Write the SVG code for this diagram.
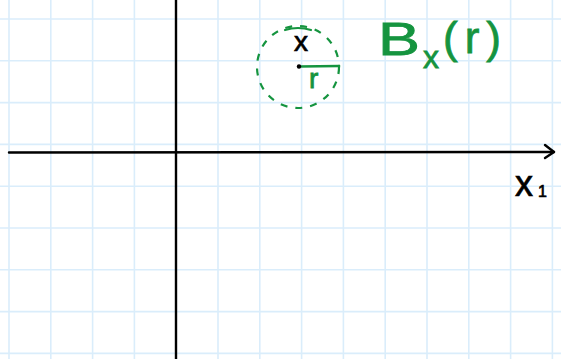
<svg xmlns="http://www.w3.org/2000/svg" width="561" height="359" viewBox="0 0 561 359">
<style>
.grid line{stroke:#daedfb;stroke-width:1.6}
.axis{stroke:#000;stroke-width:2.4;fill:none;stroke-linecap:round;stroke-linejoin:round}
.g{fill:#15943f;stroke:#15943f;stroke-width:0.8;font-family:"Liberation Sans",sans-serif}
.k{fill:#000;stroke:#000;stroke-width:0.7;font-family:"Liberation Sans",sans-serif}
</style>
<rect width="561" height="359" fill="#fff"/>
<g class="grid" id="grid">
<line x1="9" y1="0" x2="9" y2="359"/><line x1="50.8" y1="0" x2="50.8" y2="359"/><line x1="92.6" y1="0" x2="92.6" y2="359"/><line x1="134.4" y1="0" x2="134.4" y2="359"/><line x1="218" y1="0" x2="218" y2="359"/><line x1="259.8" y1="0" x2="259.8" y2="359"/><line x1="301.6" y1="0" x2="301.6" y2="359"/><line x1="343.4" y1="0" x2="343.4" y2="359"/><line x1="385.2" y1="0" x2="385.2" y2="359"/><line x1="427" y1="0" x2="427" y2="359"/><line x1="468.8" y1="0" x2="468.8" y2="359"/><line x1="510.6" y1="0" x2="510.6" y2="359"/><line x1="552.4" y1="0" x2="552.4" y2="359"/>
<line x1="0" y1="19" x2="561" y2="19"/><line x1="0" y1="60.8" x2="561" y2="60.8"/><line x1="0" y1="102.6" x2="561" y2="102.6"/><line x1="0" y1="144.4" x2="561" y2="144.4"/><line x1="0" y1="186.2" x2="561" y2="186.2"/><line x1="0" y1="228" x2="561" y2="228"/><line x1="0" y1="269.8" x2="561" y2="269.8"/><line x1="0" y1="311.6" x2="561" y2="311.6"/><line x1="0" y1="353.4" x2="561" y2="353.4"/>
</g>
<g id="connectors">
<line class="axis" x1="176" y1="0" x2="176" y2="359"/>
<path class="axis" d="M9 152.5 L554 152"/>
<path class="axis" d="M545 145 L554 152 L545 158"/>
</g>
<g id="ball">
<circle cx="298" cy="67" r="41" fill="none" stroke="#15943f" stroke-width="2.2" stroke-dasharray="7 8"/>
<path d="M285 30 Q298 26 311 30" fill="none" stroke="#15943f" stroke-width="2.2" stroke-linecap="round"/>
<line x1="299" y1="66.5" x2="339" y2="66" stroke="#15943f" stroke-width="2.6" stroke-linecap="round"/>
<circle cx="299" cy="66.5" r="2.2" fill="#000"/>
<text class="k" x="294" y="51" font-size="28">x</text>
<text class="g" x="309" y="88" font-size="28">r</text>
</g>
<g id="label-B">
<text class="g" x="378" y="55" font-size="46" textLength="42" lengthAdjust="spacingAndGlyphs">B</text>
<text class="g" x="423" y="68" font-size="32">x</text>
<text class="g" x="443" y="53" font-size="44" textLength="58" lengthAdjust="spacing">(r)</text>
</g>
<g id="label-x1">
<text class="k" x="515" y="196" font-size="36">x</text>
<text class="k" x="538" y="197" font-size="16">1</text>
</g>
</svg>
